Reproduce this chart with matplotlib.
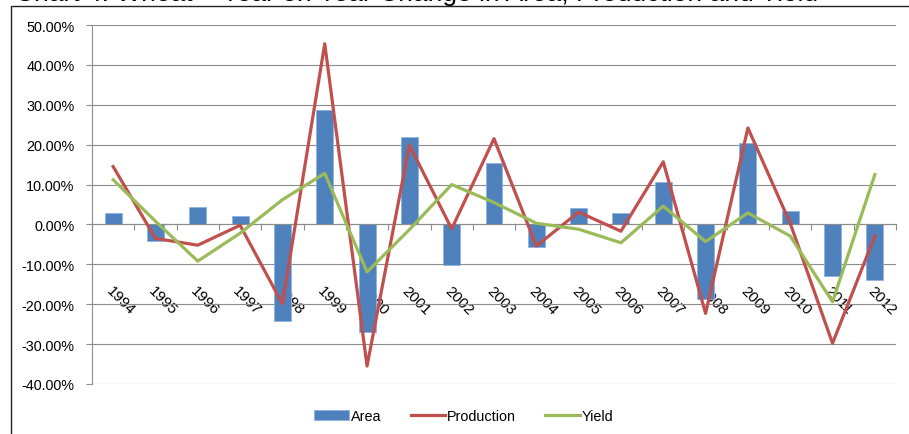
import numpy as np
import matplotlib
matplotlib.use('Agg')
import matplotlib.pyplot as plt
from matplotlib.patches import Rectangle
from matplotlib.ticker import FixedLocator, FuncFormatter

years = ['1994', '1995', '1996', '1997', '1998', '1999', '2000', '2001', '2002', '2003',
         '2004', '2005', '2006', '2007', '2008', '2009', '2010', '2011', '2012']

# year-on-year change, percent
area = [2.9, -4.2, 4.4, 2.2, -24.1, 28.8, -26.9, 22.0, -10.1, 15.5,
        -5.7, 4.2, 2.9, 10.6, -18.8, 20.5, 3.4, -12.9, -13.9]
production = [14.5, -3.5, -5.2, -0.2, -19.9, 45.3, -35.5, 19.9, -1.1, 21.5,
              -5.4, 3.1, -1.7, 15.7, -22.3, 24.2, 0.3, -29.8, -2.9]
yield_ = [11.2, 0.8, -9.2, -2.2, 6.2, 12.8, -11.9, -1.3, 10.0, 5.5,
          0.3, -1.2, -4.6, 4.6, -4.3, 2.9, -2.9, -19.4, 12.5]

title = 'Chart 4: Wheat \u2013 Year on Year Change in Area, Production and Yield'

plt.rcParams['font.family'] = ['Liberation Sans', 'DejaVu Sans']

W, H = 909, 435
fig = plt.figure(figsize=(W / 100, H / 100), dpi=100)

# chart frame
fig.patches.append(Rectangle((11 / W, -0.05), 1.0, 1 - 7 / H + 0.05,
                             transform=fig.transFigure, fill=False,
                             edgecolor='#222222', linewidth=1.0))
# heading, mostly above the top edge
fig.text(15 / W, 1 - 1.5 / H, title, fontsize=19, va='baseline', ha='left',
         color='black')

ax = fig.add_axes([92 / W, 1 - 385 / H, (896 - 92) / W, (385 - 26) / H])

x = np.arange(len(years))
bars = ax.bar(x, area, width=0.4, color='#4F81BD', edgecolor='#8EB4E3',
              linewidth=0.6, label='Area', zorder=2)
l_prod, = ax.plot(x, production, color='#C0504D', linewidth=2.3,
                  label='Production', zorder=3)
l_yield, = ax.plot(x, yield_, color='#9BBB59', linewidth=2.3, label='Yield',
                   zorder=4)

ax.set_xlim(-0.5, len(years) - 0.5)
ax.set_ylim(-40, 50)
ax.set_yticks(np.arange(-40, 51, 10))
ax.yaxis.set_major_formatter(FuncFormatter(lambda v, p: f'{v:.2f}%'))
ax.grid(axis='y', color='#8c8c8c', linewidth=0.8, zorder=0)
ax.set_axisbelow(True)

for s in ['top', 'right']:
    ax.spines[s].set_visible(False)
ax.spines['left'].set_color('#8c8c8c')
ax.spines['bottom'].set_color('#8c8c8c')
ax.spines['bottom'].set_position(('data', 0))

# tick marks between categories, labels at the centres
ax.xaxis.set_major_locator(FixedLocator(np.arange(-0.5, len(years), 1.0)))
ax.xaxis.set_major_formatter(FuncFormatter(lambda v, p: ''))
ax.xaxis.set_minor_locator(FixedLocator(x))
ax.set_xticklabels(years, minor=True)
ax.tick_params(axis='x', which='major', direction='out', length=4,
               color='#8c8c8c')
ax.tick_params(axis='x', which='minor', length=0, pad=42, labelsize=10.8)
for lab in ax.get_xticklabels(minor=True):
    lab.set_rotation(-45)
    lab.set_ha('left')
    lab.set_va('top')
    lab.set_rotation_mode('anchor')

ax.tick_params(axis='y', direction='out', length=4.5, color='#8c8c8c',
               pad=8, labelsize=10.4)

fig.legend([bars, l_prod, l_yield], ['Area', 'Production', 'Yield'],
           loc='center', bbox_to_anchor=(464 / W, 1 - 417 / H), ncol=3,
           frameon=False, fontsize=10.4, handlelength=2.4, handletextpad=0.15,
           columnspacing=2.0)

fig.savefig('out.png', dpi=100)
